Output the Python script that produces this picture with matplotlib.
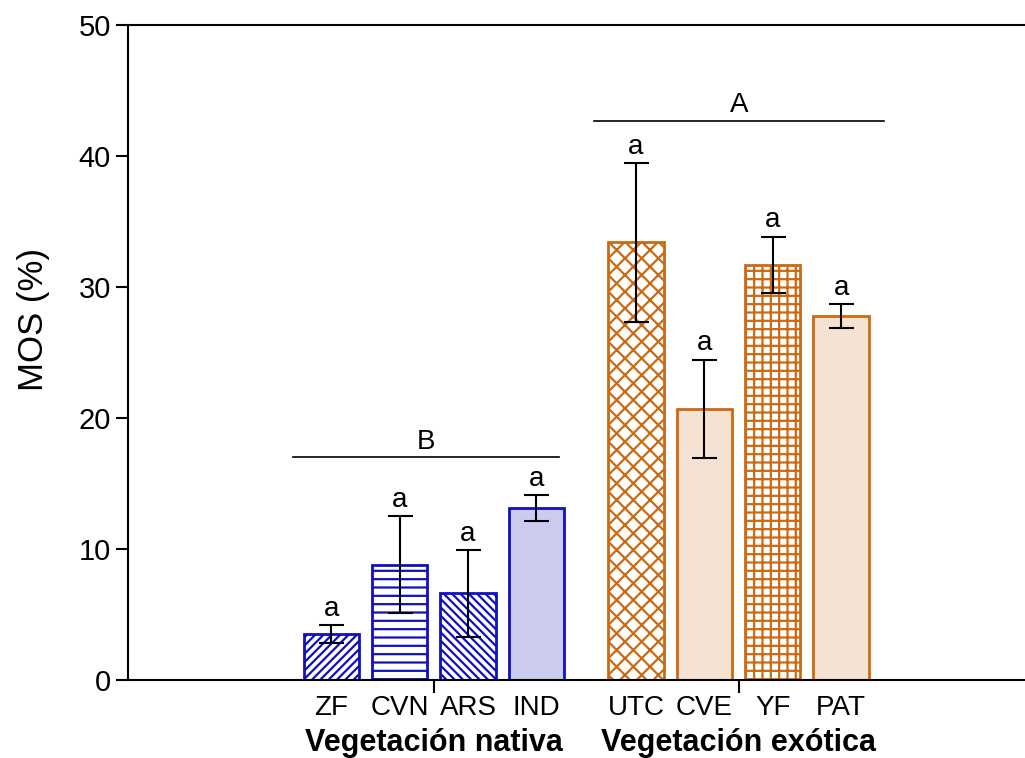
import numpy as np
import matplotlib
matplotlib.use('Agg')
from matplotlib import pyplot as plt

plt.rcParams['font.family'] = ['Liberation Sans', 'DejaVu Sans']
plt.rcParams['hatch.linewidth'] = 1.6

# data
native_labels = ['ZF', 'CVN', 'ARS', 'IND']
native_mean = [3.5, 8.8, 6.6, 13.1]
native_err = [0.7, 3.7, 3.3, 1.0]

exotic_labels = ['UTC', 'CVE', 'YF', 'PAT']
exotic_mean = [33.4, 20.7, 31.7, 27.8]
exotic_err = [6.05, 3.75, 2.15, 0.9]

letters_native = ['a', 'a', 'a', 'a']
letters_exotic = ['a', 'a', 'a', 'a']
group_names = ['Vegetación nativa', 'Vegetación exótica']
group_letters = ['B', 'A']
group_line_y = [17.0, 42.7]

blue = '#1010c0'
orange = '#cc6a14'
native_fill = ['white', 'white', 'white', '#cbcbef']
native_hatch = ['////', '--', '\\\\\\\\', None]
exotic_fill = ['white', '#f5e2d2', 'white', '#f5e2d2']
exotic_hatch = ['xx', None, '++', None]

fig = plt.figure(figsize=(10.25, 7.58), dpi=100)
ax = fig.add_axes([0.125, 0.103, 0.88, 0.864])

width = 0.81
xn = np.arange(4)
xe = np.arange(4) + 4.456

for x, m, fc, h in zip(xn, native_mean, native_fill, native_hatch):
    ax.bar(x, m, width, color=fc, edgecolor=blue, hatch=h, linewidth=2, zorder=2)
for x, m, fc, h in zip(xe, exotic_mean, exotic_fill, exotic_hatch):
    ax.bar(x, m, width, color=fc, edgecolor=orange, hatch=h, linewidth=2, zorder=2)

ax.errorbar(np.concatenate([xn, xe]), native_mean + exotic_mean, yerr=native_err + exotic_err,
            fmt='none', ecolor='black', elinewidth=1.5, capsize=9, capthick=1.5, zorder=3)

for x, m, e, l in zip(np.concatenate([xn, xe]), native_mean + exotic_mean,
                      native_err + exotic_err, letters_native + letters_exotic):
    ax.text(x, m + e + 0.25, l, ha='center', va='bottom', fontsize=20)

# group lines + letters
ax.plot([xn[0] - 0.56, xn[-1] + 0.33], [group_line_y[0]] * 2, color='black', lw=1.2)
ax.text((xn[0] - 0.56 + xn[-1] + 0.33) / 2, group_line_y[0] + 0.2, group_letters[0],
        ha='center', va='bottom', fontsize=20)
ax.plot([xe[0] - 0.62, xe[-1] + 0.63], [group_line_y[1]] * 2, color='black', lw=1.2)
ax.text((xe[0] - 0.62 + xe[-1] + 0.63) / 2, group_line_y[1] + 0.2, group_letters[1],
        ha='center', va='bottom', fontsize=20)

ax.set_xlim(-2.97, 10.22)
ax.set_ylim(0, 50)
ax.set_yticks([0, 10, 20, 30, 40, 50])
ax.tick_params(axis='y', labelsize=21, length=9, width=1.5, direction='out')
ax.set_xticks([xn.mean(), xe.mean()])
ax.set_xticklabels(['', ''])
ax.tick_params(axis='x', length=9, width=1.5, direction='out')
ax.set_ylabel('MOS (%)', fontsize=25)
ax.yaxis.set_label_coords(-0.087, 0.551)

for s in ['left', 'bottom', 'top']:
    ax.spines[s].set_linewidth(1.5)
ax.spines['right'].set_visible(False)

trans = ax.get_xaxis_transform()
for x, l in zip(np.concatenate([xn, xe]), native_labels + exotic_labels):
    ax.text(x, -0.043, l, transform=trans, ha='center', va='center', fontsize=20)
ax.text(xn.mean(), -0.097, group_names[0], transform=trans, ha='center', va='center',
        fontsize=22, fontweight='bold')
ax.text(xe.mean(), -0.097, group_names[1], transform=trans, ha='center', va='center',
        fontsize=22, fontweight='bold')

fig.savefig('out.png', dpi=100)
